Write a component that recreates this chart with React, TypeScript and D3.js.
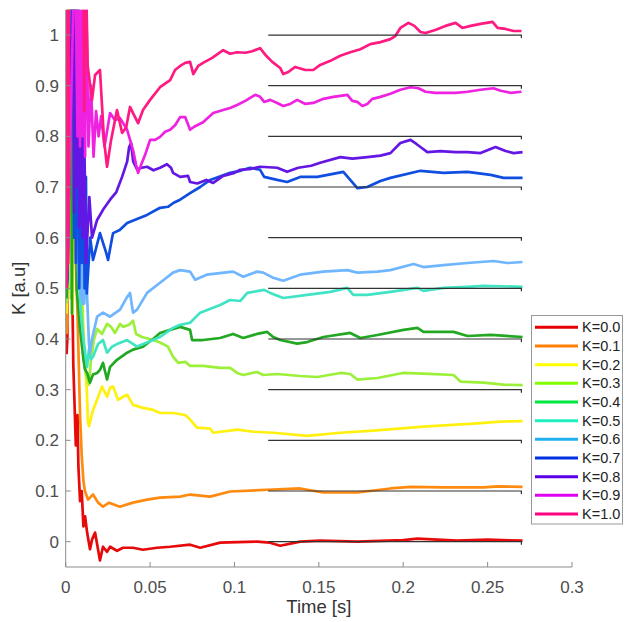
import * as d3 from "d3";

const W = 625;
const H = 622;
const margin = { top: 9.7, right: 53, bottom: 55, left: 65.7 };

// each series: [time (s), K]
const k00: [number, number][] = [
  [0.0005, 0.37], [0.001, 0.4], [0.0015, 1.2], [0.002, 0.55], [0.0025, 1.2], [0.003, 0.7], [0.0035, 0.6],
  [0.0045, 0.35], [0.006, 0.19],
  [0.007, 0.25], [0.0075, 0.15], [0.0085, 0.08], [0.0095, 0.1], [0.0105, 0.03], [0.0115, 0.05], [0.0127, 0.018],
  [0.0144, -0.015], [0.0156, 0.004], [0.0174, 0.018], [0.0192, -0.016], [0.0203, -0.037], [0.0221, -0.01],
  [0.0245, -0.02], [0.0263, -0.01], [0.0304, -0.018], [0.034, -0.012], [0.0399, -0.012], [0.0458, -0.016],
  [0.0541, -0.012], [0.0619, -0.01], [0.0737, -0.006], [0.0797, -0.012], [0.0915, -0.002], [0.1134, 0.0],
  [0.121, -0.002], [0.1271, -0.008], [0.1389, 0.0], [0.1508, 0.002], [0.1728, 0.0], [0.2, 0.003],
  [0.2084, 0.006], [0.2321, 0.002], [0.25, 0.004], [0.2707, 0.002],
];
const k01: [number, number][] = [
  [0.0005, 0.41], [0.001, 0.43], [0.0018, 1.2], [0.0025, 0.5], [0.003, 1.2], [0.0038, 0.6], [0.0045, 1.2],
  [0.0055, 0.6], [0.007, 0.45], [0.0085, 0.25],
  [0.0095, 0.17], [0.0105, 0.12], [0.0114, 0.1], [0.0132, 0.083], [0.0162, 0.093], [0.0192, 0.077],
  [0.0221, 0.069], [0.0257, 0.077], [0.032, 0.069], [0.0399, 0.077], [0.0482, 0.083], [0.0559, 0.087],
  [0.0678, 0.089], [0.0737, 0.093], [0.0856, 0.089], [0.0974, 0.099], [0.1229, 0.103], [0.1389, 0.105],
  [0.1527, 0.097], [0.1728, 0.097], [0.1924, 0.105], [0.2043, 0.108], [0.2239, 0.107], [0.2476, 0.107],
  [0.2559, 0.109], [0.2707, 0.108],
];
const k02: [number, number][] = [
  [0.0005, 0.45], [0.001, 0.5], [0.002, 1.2], [0.0028, 0.5], [0.0035, 1.2], [0.0042, 0.45], [0.005, 1.2],
  [0.0075, 1.2], [0.009, 0.55], [0.011, 0.38], [0.0125, 0.3],
  [0.0132, 0.235], [0.0138, 0.228], [0.0162, 0.26], [0.0186, 0.28], [0.0215, 0.306], [0.0245, 0.286],
  [0.0263, 0.304], [0.0281, 0.306], [0.031, 0.28], [0.034, 0.286], [0.0364, 0.29], [0.0399, 0.27],
  [0.0458, 0.264], [0.0518, 0.26], [0.0559, 0.254], [0.0636, 0.254], [0.0708, 0.25], [0.0737, 0.241],
  [0.0778, 0.225], [0.0856, 0.223], [0.0874, 0.215], [0.1016, 0.221], [0.1112, 0.217], [0.1229, 0.215],
  [0.1431, 0.209], [0.1627, 0.215], [0.1823, 0.219], [0.212, 0.227], [0.2416, 0.233], [0.2577, 0.237],
  [0.2707, 0.238],
];
const k03: [number, number][] = [
  [0.0005, 0.47], [0.001, 0.5], [0.0025, 1.2], [0.003, 0.48], [0.0037, 1.2], [0.0085, 1.2], [0.0095, 0.5],
  [0.0105, 0.38], [0.012, 0.33],
  [0.0138, 0.31], [0.015, 0.36], [0.0168, 0.4], [0.0186, 0.42], [0.0215, 0.41], [0.0245, 0.43], [0.0269, 0.424],
  [0.0292, 0.412], [0.0322, 0.43], [0.034, 0.424], [0.0375, 0.428], [0.0399, 0.436], [0.0417, 0.41],
  [0.0452, 0.404], [0.0518, 0.398], [0.0559, 0.393], [0.0606, 0.385], [0.0636, 0.365], [0.0667, 0.353],
  [0.0708, 0.355], [0.0737, 0.347], [0.0814, 0.347], [0.0915, 0.343], [0.0974, 0.343], [0.1016, 0.333],
  [0.1052, 0.329], [0.1134, 0.335], [0.117, 0.329], [0.1253, 0.331], [0.1389, 0.327], [0.1491, 0.325],
  [0.1627, 0.333], [0.1686, 0.331], [0.1728, 0.32], [0.1847, 0.323], [0.1998, 0.333], [0.2156, 0.331],
  [0.2298, 0.329], [0.2339, 0.316], [0.2476, 0.314], [0.2594, 0.31], [0.2707, 0.309],
];
const k04: [number, number][] = [
  [0.0005, 0.48], [0.001, 0.52], [0.003, 1.2], [0.0037, 0.45], [0.0045, 1.2], [0.0055, 1.2], [0.0065, 0.5],
  [0.0085, 0.42], [0.0105, 0.36],
  [0.0114, 0.34], [0.0127, 0.333], [0.0144, 0.314], [0.0162, 0.33], [0.0186, 0.333], [0.0203, 0.339],
  [0.0221, 0.353], [0.0245, 0.32], [0.0263, 0.345], [0.0304, 0.359], [0.0364, 0.373], [0.0399, 0.379],
  [0.0458, 0.385], [0.0518, 0.4], [0.0559, 0.412], [0.0619, 0.418], [0.0678, 0.424], [0.0737, 0.418],
  [0.0749, 0.398], [0.0814, 0.398], [0.0915, 0.402], [0.0992, 0.41], [0.1052, 0.402], [0.1134, 0.41],
  [0.1194, 0.414], [0.1229, 0.404], [0.1271, 0.398], [0.1372, 0.391], [0.1431, 0.394], [0.1527, 0.404],
  [0.1686, 0.412], [0.1746, 0.402], [0.1847, 0.408], [0.2002, 0.418], [0.2084, 0.422], [0.212, 0.414],
  [0.2298, 0.414], [0.2381, 0.406], [0.2518, 0.408], [0.2707, 0.404],
];
const k05: [number, number][] = [
  [0.0005, 0.5], [0.001, 0.52], [0.0035, 1.2], [0.0065, 1.2], [0.0075, 0.55], [0.009, 0.45], [0.0105, 0.4],
  [0.012, 0.36], [0.0127, 0.345], [0.0138, 0.38], [0.015, 0.36], [0.0162, 0.365], [0.0192, 0.39],
  [0.0221, 0.398], [0.0245, 0.373], [0.0275, 0.385], [0.0304, 0.39], [0.0364, 0.398], [0.0423, 0.385],
  [0.0482, 0.393], [0.0559, 0.404], [0.0636, 0.422], [0.0678, 0.428], [0.0737, 0.432], [0.0797, 0.452],
  [0.0915, 0.467], [0.0974, 0.477], [0.1034, 0.475], [0.1076, 0.491], [0.1176, 0.497], [0.1212, 0.491],
  [0.1289, 0.481], [0.1431, 0.487], [0.1568, 0.493], [0.1669, 0.501], [0.1704, 0.487], [0.1787, 0.487],
  [0.1924, 0.493], [0.2084, 0.501], [0.212, 0.495], [0.2239, 0.501], [0.2381, 0.503], [0.2476, 0.505],
  [0.2707, 0.503],
];
const k06: [number, number][] = [
  [0.0005, 0.5], [0.001, 0.52], [0.004, 1.2], [0.0055, 1.2], [0.006, 0.62], [0.008, 0.5], [0.0085, 0.62],
  [0.009, 0.48], [0.0095, 0.6], [0.01, 0.47], [0.0105, 0.62], [0.011, 0.47], [0.0118, 0.6], [0.0125, 0.5],
  [0.0138, 0.39], [0.0144, 0.373], [0.0156, 0.4], [0.0186, 0.444],
  [0.0221, 0.452], [0.0263, 0.444], [0.0322, 0.458], [0.0364, 0.483], [0.0381, 0.491], [0.0399, 0.452],
  [0.0423, 0.458], [0.0482, 0.491], [0.0559, 0.511], [0.0636, 0.531], [0.0678, 0.536], [0.0737, 0.533],
  [0.0767, 0.517], [0.0836, 0.527], [0.0992, 0.533], [0.1052, 0.523], [0.1134, 0.533], [0.117, 0.531],
  [0.1229, 0.521], [0.1289, 0.515], [0.1389, 0.527], [0.1527, 0.533], [0.1669, 0.536], [0.1728, 0.531],
  [0.1847, 0.533], [0.1924, 0.536], [0.2061, 0.548], [0.212, 0.542], [0.2239, 0.546], [0.2381, 0.55],
  [0.2535, 0.554], [0.2618, 0.55], [0.2707, 0.552],
];
const k07: [number, number][] = [
  [0.0005, 0.5], [0.001, 0.52], [0.0045, 1.2], [0.005, 0.6], [0.0055, 1.2], [0.006, 0.55], [0.0068, 1.2],
  [0.0075, 0.7], [0.008, 0.5], [0.0088, 0.9], [0.0095, 0.55], [0.0105, 0.8], [0.0112, 0.5], [0.012, 0.72],
  [0.0125, 0.49],
  [0.0145, 0.6], [0.0162, 0.556], [0.0203, 0.609], [0.024, 0.57], [0.0251, 0.556], [0.0275, 0.6],
  [0.0281, 0.609], [0.032, 0.615], [0.0364, 0.629], [0.0423, 0.637], [0.0482, 0.645], [0.0559, 0.659],
  [0.0606, 0.661], [0.064, 0.669], [0.0678, 0.675], [0.0737, 0.688], [0.0797, 0.7], [0.0856, 0.714],
  [0.0974, 0.728], [0.1034, 0.732], [0.1093, 0.738], [0.1152, 0.734], [0.1176, 0.72], [0.1253, 0.714],
  [0.1312, 0.71], [0.1389, 0.72], [0.1491, 0.72], [0.1645, 0.73], [0.1686, 0.714], [0.1728, 0.698],
  [0.1787, 0.7], [0.1865, 0.712], [0.1924, 0.718], [0.2102, 0.732], [0.2239, 0.728], [0.2381, 0.73],
  [0.2518, 0.724], [0.2594, 0.718], [0.2707, 0.718],
];
const k08: [number, number][] = [
  [0.0005, 0.5], [0.001, 0.53], [0.0045, 1.2], [0.005, 0.65], [0.0058, 1.2], [0.0065, 0.7], [0.0075, 1.1],
  [0.008, 0.62], [0.009, 0.85], [0.01, 0.6], [0.011, 0.8], [0.012, 0.55],
  [0.014, 0.68], [0.0156, 0.6], [0.0186, 0.635], [0.0221, 0.655], [0.0263, 0.675], [0.03, 0.69],
  [0.0334, 0.72], [0.0364, 0.75], [0.0376, 0.779], [0.0387, 0.787], [0.04, 0.75], [0.0423, 0.735],
  [0.045, 0.738], [0.0482, 0.74], [0.052, 0.733], [0.0559, 0.738], [0.06, 0.745], [0.0624, 0.738],
  [0.0636, 0.728], [0.0678, 0.72], [0.0725, 0.722], [0.0737, 0.71], [0.078, 0.707], [0.0833, 0.714],
  [0.0874, 0.708], [0.0933, 0.722], [0.1, 0.728], [0.1034, 0.734], [0.11, 0.736], [0.1152, 0.74],
  [0.1253, 0.738], [0.1312, 0.73], [0.1378, 0.738], [0.1455, 0.742], [0.1508, 0.748], [0.1627, 0.759],
  [0.1698, 0.756], [0.1787, 0.759], [0.1865, 0.762], [0.1924, 0.767], [0.1983, 0.787], [0.2043, 0.793],
  [0.2078, 0.785], [0.2102, 0.779], [0.2143, 0.769], [0.222, 0.771], [0.231, 0.769], [0.2381, 0.769],
  [0.2458, 0.767], [0.2547, 0.779], [0.2606, 0.771], [0.2654, 0.767], [0.2707, 0.769],
];
const k09: [number, number][] = [
  [0.0005, 0.52], [0.001, 0.55], [0.0055, 1.2], [0.007, 0.8], [0.0075, 1.2], [0.0085, 0.78], [0.009, 1.2],
  [0.01, 0.8], [0.0105, 1.2], [0.0115, 0.76], [0.012, 1.1], [0.0135, 0.78], [0.015, 0.9], [0.0165, 0.76],
  [0.018, 0.85], [0.0195, 0.8], [0.021, 0.84], [0.023, 0.78], [0.025, 0.82], [0.0263, 0.846], [0.0292, 0.832],
  [0.0322, 0.836], [0.0364, 0.813], [0.0399, 0.773], [0.0417, 0.744], [0.0429, 0.728], [0.0447, 0.744],
  [0.047, 0.763], [0.05, 0.793], [0.053, 0.793], [0.0559, 0.799], [0.0589, 0.809], [0.0619, 0.813],
  [0.0648, 0.822], [0.0678, 0.838], [0.0708, 0.838], [0.0737, 0.813], [0.0761, 0.819], [0.0814, 0.828],
  [0.0874, 0.846], [0.0933, 0.852], [0.0974, 0.856], [0.1016, 0.862], [0.1064, 0.87], [0.1093, 0.876],
  [0.1123, 0.882], [0.1152, 0.878], [0.1176, 0.868], [0.1212, 0.872], [0.1253, 0.866], [0.1289, 0.86],
  [0.133, 0.864], [0.1372, 0.872], [0.142, 0.864], [0.1467, 0.866], [0.1527, 0.874], [0.1586, 0.878],
  [0.1627, 0.88], [0.1669, 0.882], [0.1698, 0.87], [0.1728, 0.868], [0.1758, 0.86], [0.1787, 0.864],
  [0.1817, 0.874], [0.1865, 0.878], [0.1924, 0.884], [0.1983, 0.892], [0.2043, 0.897], [0.209, 0.895],
  [0.2132, 0.888], [0.219, 0.886], [0.231, 0.886], [0.2381, 0.888], [0.2458, 0.892], [0.2535, 0.895],
  [0.2577, 0.89], [0.2636, 0.886], [0.2701, 0.888],
];
const k10: [number, number][] = [
  [0.0005, 0.5], [0.001, 1.2], [0.0015, 0.55], [0.002, 1.2], [0.004, 1.3], [0.008, 1.15], [0.0105, 1.1],
  [0.011, 0.85], [0.0115, 1.2], [0.0127, 1.0], [0.013, 0.94],
  [0.0156, 0.872], [0.0174, 0.921], [0.0203, 0.931], [0.0227, 0.793], [0.0245, 0.74], [0.0269, 0.793],
  [0.0304, 0.852], [0.0334, 0.807], [0.0358, 0.817], [0.0381, 0.858], [0.0405, 0.842], [0.0429, 0.826],
  [0.0458, 0.852], [0.05, 0.872], [0.0559, 0.897], [0.0619, 0.911], [0.0648, 0.931], [0.0678, 0.939],
  [0.0708, 0.945], [0.0737, 0.947], [0.0756, 0.923], [0.0785, 0.939], [0.0814, 0.945], [0.0868, 0.955],
  [0.0933, 0.97], [0.0974, 0.963], [0.1016, 0.966], [0.1064, 0.965], [0.1105, 0.968], [0.1152, 0.974],
  [0.1188, 0.959], [0.1224, 0.947], [0.1271, 0.935], [0.1289, 0.923], [0.1319, 0.927], [0.136, 0.937],
  [0.142, 0.931], [0.1467, 0.931], [0.1508, 0.941], [0.1568, 0.949], [0.1627, 0.959], [0.1686, 0.966],
  [0.1746, 0.972], [0.1805, 0.982], [0.1865, 0.986], [0.1924, 0.992], [0.1953, 0.998], [0.1983, 1.014],
  [0.2031, 1.024], [0.2066, 1.018], [0.2102, 1.006], [0.2132, 1.004], [0.219, 1.01], [0.225, 1.018],
  [0.231, 1.024], [0.2351, 1.014], [0.2399, 1.018], [0.2458, 1.022], [0.2529, 1.026], [0.2559, 1.014],
  [0.2606, 1.012], [0.2654, 1.008], [0.2701, 1.008],
];

const series = [k00, k01, k02, k03, k04, k05, k06, k07, k08, k09, k10];
const labels = ["K=0.0", "K=0.1", "K=0.2", "K=0.3", "K=0.4", "K=0.5", "K=0.6", "K=0.7", "K=0.8", "K=0.9", "K=1.0"];
const refLevels = [0, 0.1, 0.2, 0.3, 0.4, 0.5, 0.6, 0.7, 0.8, 0.9, 1.0];
const refSpan = [0.12, 0.27];
const xTicks = [0, 0.05, 0.1, 0.15, 0.2, 0.25, 0.3];
const yTicks = [0, 0.1, 0.2, 0.3, 0.4, 0.5, 0.6, 0.7, 0.8, 0.9, 1];

const lineColors = ["#e60a0a", "#ff8a10", "#fff010", "#9cf03a", "#22a822", "#40e4c4", "#70b6ff", "#0f4ee0", "#6416e4", "#ee22e0", "#ff1a82"];
const legendColors = ["#e60000", "#ff8000", "#ffff00", "#80ff00", "#00e840", "#20f0c0", "#20b0f0", "#0030e0", "#5a00e8", "#e000f0", "#ff0080"];

const FONT = "'Liberation Sans', Arial, sans-serif";

export default function App() {
  const x = d3.scaleLinear().domain([0, 0.3]).range([margin.left, W - margin.right]);
  const y = d3.scaleLinear().domain([-0.05, 1.05]).range([H - margin.bottom, margin.top]);
  const line = d3
    .line<[number, number]>()
    .x((d) => x(d[0]))
    .y((d) => y(d[1]));

  const x0 = x(0);
  const x1 = x(0.3);
  const y0 = y(-0.05);
  const y1 = y(1.05);

  const legend = { x: 531.5, y: 315.5, w: 91, h: 208.5, row: 18.67, first: 327.3 };

  return (
    <svg
      width={W}
      height={H}
      style={{ position: "absolute", left: 0, top: 0, background: "#fff" }}
      fontFamily={FONT}
    >
      <defs>
        <clipPath id="plot-clip">
          <rect x={x0} y={y1} width={x1 - x0} height={y0 - y1} />
        </clipPath>
      </defs>

      {/* data lines */}
      <g clipPath="url(#plot-clip)">
        {series.map((s, i) => (
          <path key={i} d={line(s) || ""} fill="none" stroke={lineColors[i]} strokeWidth={2.7} strokeLinejoin="round" />
        ))}
      </g>

      {/* target levels */}
      <g>
        {refLevels.map((k) => (
          <path
            key={k}
            d={`M${x(refSpan[0])},${y(k)}H${x(refSpan[1])}v3`}
            fill="none"
            stroke="#333"
            strokeWidth={1.2}
          />
        ))}
      </g>

      {/* axes */}
      <g stroke="#8c8c8c" strokeWidth={1} fill="none">
        <path d={`M${x0},${y1}V${y0}H${x1}`} />
        {xTicks.map((t) => (
          <path key={t} d={`M${x(t)},${y0}v-5`} />
        ))}
        {yTicks.map((t) => (
          <path key={t} d={`M${x0},${y(t)}h5`} />
        ))}
      </g>
      <g fill="#4d4d4d" fontSize={17}>
        {xTicks.map((t) => (
          <text key={t} x={x(t)} y={593} textAnchor="middle">
            {d3.format("~g")(t)}
          </text>
        ))}
        {yTicks.map((t) => (
          <text key={t} x={59} y={y(t) + 6} textAnchor="end">
            {d3.format("~g")(t)}
          </text>
        ))}
      </g>
      <text x={(x0 + x1) / 2} y={613} textAnchor="middle" fontSize={18.5} fill="#333">
        Time [s]
      </text>
      <text
        transform={`translate(25,${(y0 + y1) / 2}) rotate(-90)`}
        textAnchor="middle"
        fontSize={18.5}
        fill="#333"
      >
        K [a.u]
      </text>

      {/* legend */}
      <rect x={legend.x} y={legend.y} width={legend.w} height={legend.h} fill="#fff" stroke="#999" strokeWidth={1} />
      {labels.map((lab, i) => {
        const ly = legend.first + i * legend.row;
        return (
          <g key={lab}>
            <line x1={535} x2={578} y1={ly} y2={ly} stroke={legendColors[i]} strokeWidth={3} />
            <text x={582} y={ly + 5} fontSize={14.5} fill="#222">
              {lab}
            </text>
          </g>
        );
      })}
    </svg>
  );
}
